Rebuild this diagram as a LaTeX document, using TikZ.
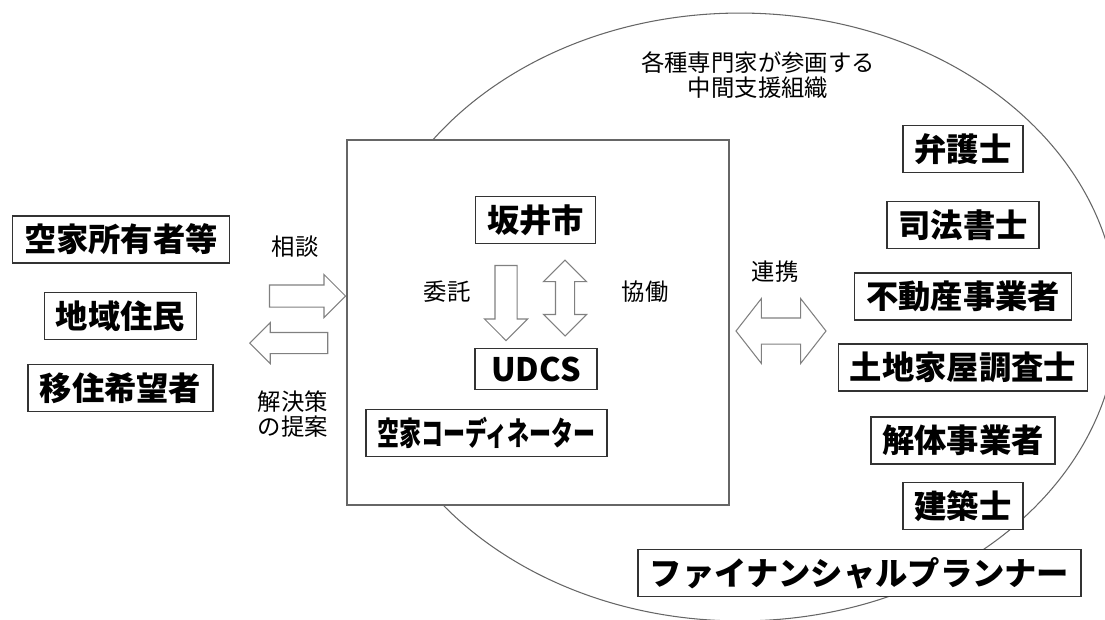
\documentclass[tikz,border=0pt]{standalone}
\usepackage{fontspec}
\setmainfont{Noto Sans CJK JP}
\usetikzlibrary{shapes.arrows}
\tikzset{
  member/.style={draw=black!80, line width=0.9pt, fill=white, inner xsep=6.5pt, inner ysep=4.5pt,
    font=\bfseries\fontsize{18.4}{22}\selectfont},
  caption/.style={align=center, inner sep=0pt, font=\fontsize{13.3}{14.2}\selectfont},
  oneway/.style={single arrow, draw=black!50, line width=0.6pt, fill=white, inner sep=0.21cm,
    single arrow head extend=0.21cm},
  twoway/.style={double arrow, draw=black!50, line width=0.6pt, fill=white}
}
\begin{document}
\begin{tikzpicture}[x=0.02cm, y=-0.02cm]
  \useasboundingbox (0,0) rectangle (1105,619);
  % support organisation
  \draw[black!60, line width=0.6pt] (740,317) ellipse [x radius=7.56cm, y radius=6.08cm];
  \node[caption] (network) at (758,75.5) {各種専門家が参画する\\中間支援組織};
  % the city side
  \node[draw=black!60, line width=1.1pt, fill=white, minimum width=7.64cm, minimum height=7.3cm]
    (office) at (538,322.5) {};
  \node[member] (city) at (535.5,220) {坂井市};
  \node[member, minimum width=2.44cm] (udcs) at (536,369) {UDCS};
  \node[member] (coordinator) at (486.5,433) {\scalebox{0.68}[1]{空家コーディネーター}};
  \node[oneway, minimum height=1.5cm, shape border rotate=270] (delegate) at (506,297.5) {};
  \node[twoway, minimum height=1.52cm, inner sep=0.18cm, double arrow head extend=0.24cm,
    shape border rotate=90] (cowork) at (565,298) {};
  \node[caption] (delegatetext) at (447,292) {委託};
  \node[caption] (coworktext) at (645,292) {協働};
  % residents
  \node[member] (owner) at (121,239.5) {空家所有者等};
  \node[member] (resident) at (120.5,316) {地域住民};
  \node[member] (migrant) at (120.5,388) {移住希望者};
  \node[oneway, minimum height=1.52cm] (consult) at (302,296) {};
  \node[oneway, minimum height=1.56cm, inner sep=0.2cm, single arrow head extend=0.2cm,
    shape border rotate=180] (propose) at (294,343) {};
  \node[caption] (consulttext) at (295,247) {相談};
  \node[caption] (proposetext) at (293,414.5) {解決策\\の提案};
  % link to the experts
  \node[twoway, minimum height=1.8cm, inner sep=0.25cm, double arrow head extend=0.39cm,
    double arrow tip angle=104] (link) at (781,331) {};
  \node[caption] (linktext) at (775,272) {連携};
  % experts
  \foreach \name/\job/\y in {lawyer/弁護士/149, scrivener/司法書士/225, realtor/不動産事業者/296.5,
      surveyor/土地家屋調査士/367.5, demolisher/解体事業者/440.5, architect/建築士/506}
    \node[member] (\name) at (963,\y) {\job};
  \node[member] (planner) at (859.5,573) {ファイナンシャルプランナー};
\end{tikzpicture}
\end{document}
